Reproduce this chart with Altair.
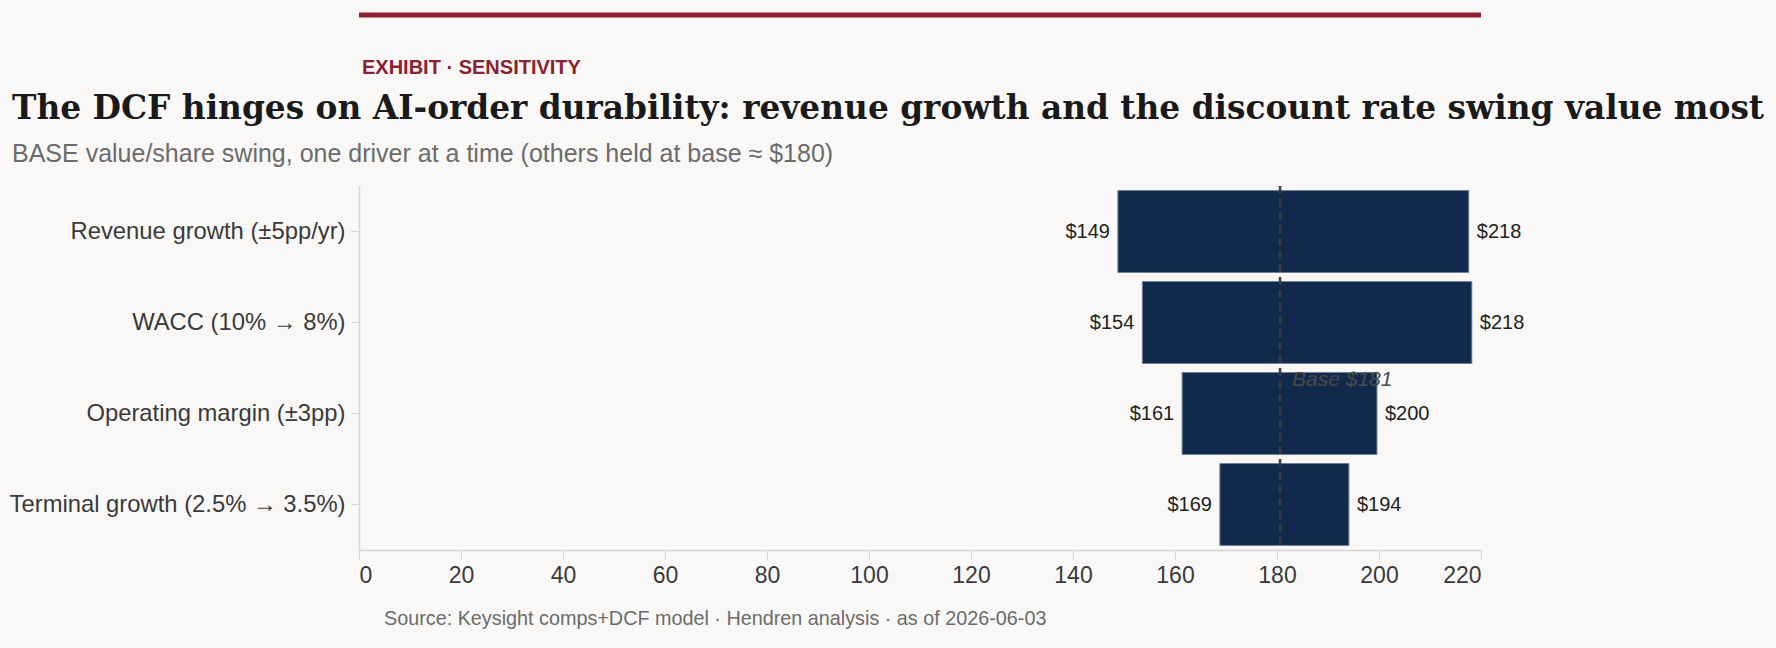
import altair as alt
import pandas as pd

# ---- data ----
drivers = [
    "Revenue growth (±5pp/yr)",
    "WACC (10% → 8%)",
    "Operating margin (±3pp)",
    "Terminal growth (2.5% → 3.5%)",
]
low_values = [148.8, 153.6, 161.4, 168.8]
high_values = [217.6, 218.2, 199.6, 194.1]
base_value = [180.6]
x_ticks = [0, 20, 40, 60, 80, 100, 120, 140, 160, 180, 200, 220]

KICKER = "EXHIBIT · SENSITIVITY"
TITLE = "The DCF hinges on AI-order durability: revenue growth and the discount rate swing value most"
SUBTITLE = "BASE value/share swing, one driver at a time (others held at base ≈ $180)"
SOURCE = "Source: Keysight comps+DCF model · Hendren analysis · as of 2026-06-03"

W, H = 1122, 364
LEFT, TOP = 359, 186
SANS = "Liberation Sans"
SERIF = "DejaVu Serif"
NAVY = "#11294a"
RED = "#8b2131"

df = pd.DataFrame({"driver": drivers, "low": low_values, "high": high_values})
base_df = pd.DataFrame({"base": base_value})

y_enc = alt.Y(
    "driver:N",
    sort=drivers,
    scale=alt.Scale(paddingInner=0.1, paddingOuter=0.05),
    axis=alt.Axis(
        title=None,
        labelFont=SANS,
        labelFontSize=23.8,
        labelColor="#3a3a3a",
        labelLimit=400,
        labelPadding=6,
        tickSize=8,
        tickColor="#d4d4d4",
        domainColor="#d4d4d4",
        domainWidth=1.5,
    ),
)
x_scale = alt.Scale(domain=[0, 220], nice=False)
x_axis = alt.Axis(
    title=None,
    values=x_ticks,
    labelFont=SANS,
    labelFontSize=23,
    labelColor="#3a3a3a",
    labelPadding=5,
    tickSize=9,
    tickColor="#d4d4d4",
    domainColor="#d4d4d4",
    domainWidth=1.5,
    grid=False,
)

base = alt.Chart(df)

bars = base.mark_bar(color=NAVY, stroke="#6d7f97", strokeWidth=1).encode(
    x=alt.X("low:Q", scale=x_scale, axis=x_axis),
    x2="high:Q",
    y=y_enc,
)

left_labels = base.transform_calculate(
    lbl="'$' + format(datum.low, '.0f')"
).mark_text(align="right", baseline="middle", dx=-8, font=SANS, fontSize=20, color="#222222").encode(
    x="low:Q", y=alt.Y("driver:N", sort=drivers), text="lbl:N"
)

right_labels = base.transform_calculate(
    lbl="'$' + format(datum.high, '.0f')"
).mark_text(align="left", baseline="middle", dx=8, font=SANS, fontSize=20, color="#222222").encode(
    x="high:Q", y=alt.Y("driver:N", sort=drivers), text="lbl:N"
)

rule = alt.Chart(base_df).mark_rule(color="#3d3d3d", strokeWidth=2.5, strokeDash=[8, 5]).encode(
    x="base:Q"
)

base_label = alt.Chart(base_df).transform_calculate(
    lbl="'Base $' + format(datum.base, '.0f')"
).mark_text(
    align="left", baseline="middle", dx=12, dy=-34, font=SANS, fontSize=21,
    fontStyle="italic", color="#4a4a4a",
).encode(
    x="base:Q", y=alt.datum(drivers[2]), text="lbl:N"
)

one = pd.DataFrame({"k": [0]})

def header(text, x, y, **kw):
    return alt.Chart(one).mark_text(text=text, align="left", baseline="alphabetic", **kw).encode(
        x=alt.value(x), y=alt.value(y)
    )

top_rule = alt.Chart(one).mark_rule(color=RED, strokeWidth=5).encode(
    x=alt.value(0), x2=alt.value(W), y=alt.value(-171)
)
kicker = header(KICKER, 3, -112, font=SANS, fontSize=20, fontWeight="bold", color=RED)
title = header(TITLE, -347, -67, font=SERIF, fontSize=32.8, fontWeight="bold", color="#1a1a1a")
subtitle = header(SUBTITLE, -347, -24, font=SANS, fontSize=25, color="#6b6b6b")
source = header(SOURCE, 25, 439, font=SANS, fontSize=19.8, color="#6b6b6b")

chart = alt.layer(
    bars, rule, left_labels, right_labels, base_label,
    top_rule, kicker, title, subtitle, source,
).properties(
    width=W,
    height=H,
    padding={"left": LEFT, "top": TOP, "right": 1776 - LEFT - W, "bottom": 648 - TOP - H},
    autosize=alt.AutoSizeParams(type="none"),
    background="#f9f8f6",
).configure_view(stroke=None)

chart.save("out.html", embed_options={"renderer": "svg", "actions": False})
